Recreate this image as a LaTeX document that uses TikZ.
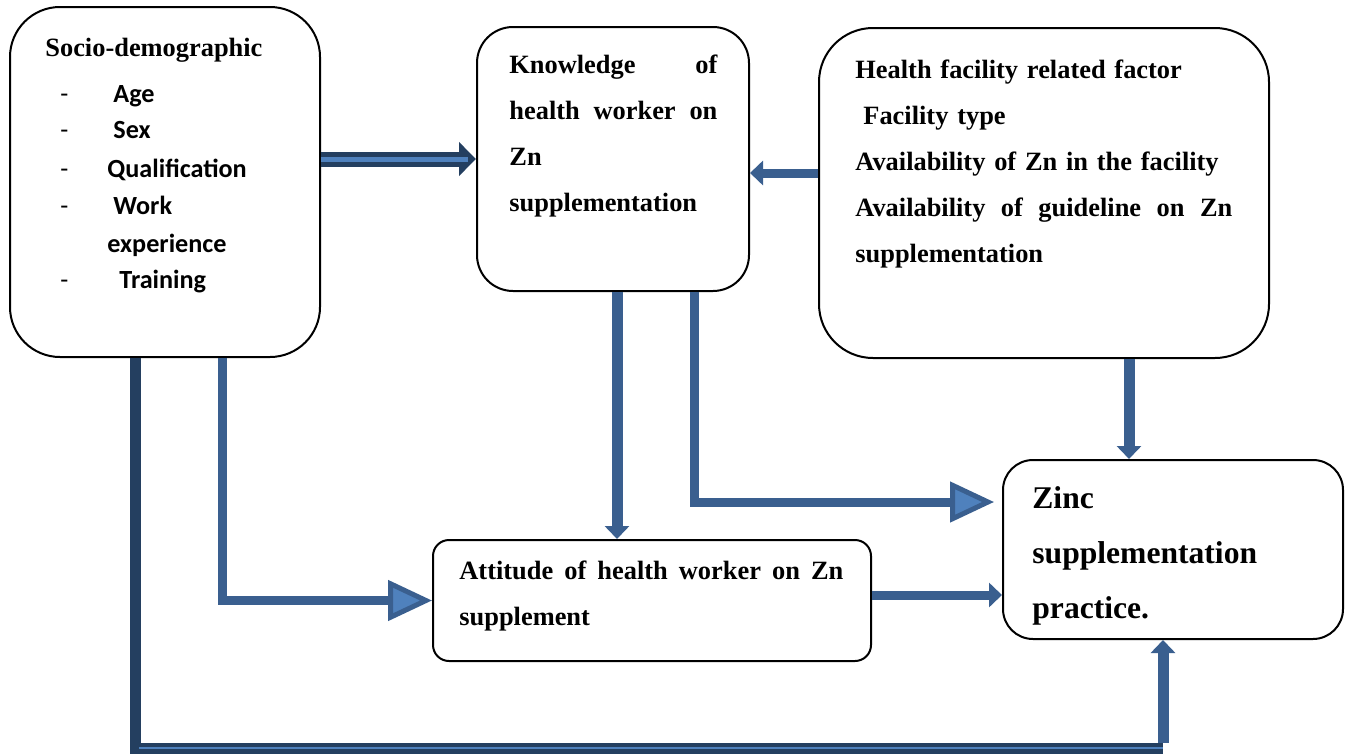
\documentclass[tikz,border=0pt]{standalone}
\usepackage{fontspec}
\setmainfont{Liberation Serif}
\newfontfamily\calibrifont{Carlito}
\usetikzlibrary{arrows.meta}
\definecolor{arrowblue}{HTML}{3A5F8F}
\definecolor{tipfill}{HTML}{4F81BD}
\definecolor{navyblue}{HTML}{243F60}
\begin{document}
\begin{tikzpicture}[x=0.5pt,y=-0.5pt,
	box/.style={draw,line width=1pt,rounded corners=#1,inner sep=0pt},
	box/.default=15pt,
	txt/.style={inner sep=0pt,anchor=base west,align=left,font=\fontsize{13.2}{23}\selectfont\bfseries},
	item/.style={inner sep=0pt,anchor=base west,font=\calibrifont\fontsize{13.1}{18}\selectfont\bfseries},
	dashitem/.style={inner sep=0pt,anchor=base west,font=\calibrifont\fontsize{13.1}{18}\selectfont},
	arr/.style={draw=arrowblue,line width=5pt,-{Triangle[length=6.5pt,width=12pt]}},
	bigarr/.style={draw=arrowblue,line width=4.5pt,-{Triangle[length=22pt,width=20pt,fill=tipfill,line width=2.5pt]}}]
	\useasboundingbox (0,0) rectangle (1349,755);
	% Kaesten
	\node[box=25pt,minimum width=155pt,minimum height=175pt] (socio) at (165,182) {};
	\node[box=18pt,minimum width=136pt,minimum height=132pt] (know) at (613,159) {};
	\node[box=27pt,minimum width=225pt,minimum height=165pt] (facil) at (1044,193) {};
	\node[box=8pt,minimum width=219pt,minimum height=60.5pt] (att) at (652,600.5) {};
	\node[box=15pt,minimum width=170pt,minimum height=89.5pt] (zinc) at (1173,549.5) {};
	% Texte
	\node[txt] (tsocio) at (45,56) {Socio-demographic};
	\node[dashitem] (d1) at (60,102) {-};
	\node[item] (age) at (113,102) {Age};
	\node[dashitem] (d2) at (60,138) {-};
	\node[item] (sex) at (113,138) {Sex};
	\node[dashitem] (d3) at (60,177) {-};
	\node[item] (qual) at (107,177) {Qualification};
	\node[dashitem] (d4) at (60,214) {-};
	\node[item] (work) at (113,214) {Work};
	\node[item] (exper) at (107,252) {experience};
	\node[dashitem] (d5) at (60,288) {-};
	\node[item] (train) at (119,288) {Training};
	\node[txt,text width=104pt] (tknow) at (509,73)
		{Knowledge\hfill of\\health\hfill worker\hfill on\\Zn\\supplementation};
	\node[txt,text width=188.5pt] (tfacil) at (855,78)
		{Health facility related factor\\\hspace*{4pt}Facility type\\Availability of Zn in the facility\\Availability\hfill of\hfill guideline\hfill on\hfill Zn\\supplementation};
	\node[txt,text width=192pt] (tatt) at (459,579)
		{Attitude\hfill of\hfill health\hfill worker\hfill on\hfill Zn\\supplement};
	\node[txt,text width=140pt,font=\fontsize{15.8}{27.5}\selectfont\bfseries] (tzinc) at (1032,508)
		{Zinc\\supplementation\\practice.};
	% Pfeile
	\draw[navyblue,line width=7.5pt,-{Triangle[length=8.5pt,width=16.5pt]}] (socio.east |- know.west) to (know.west);
	\draw[tipfill,line width=2.5pt,shorten >=4pt] (socio.east |- know.west) to (know.west);
	\draw[arr,line width=4.5pt] ([yshift=10pt]facil.west) to ([yshift=10pt]facil.west -| know.east);
	\draw[arr,line width=5.5pt] ([xshift=2pt]know.south) to ([xshift=2pt]know.south |- att.north);
	\draw[bigarr] ([xshift=40.5pt]know.south) |- ([yshift=23.75pt,xshift=-4pt]zinc.west);
	\draw[arr,line width=5.5pt] ([xshift=42.5pt]facil.south) to ([xshift=42.5pt]facil.south |- zinc.north);
	\draw[bigarr] ([xshift=28.5pt]socio.south) |- (att.west);
	\draw[arr,line width=4.5pt] ([yshift=2.75pt]att.east) to ([yshift=2.75pt]att.east -| zinc.west);
	\coordinate (bl) at (135,748);
	\coordinate (br) at (1163,748);
	\draw[navyblue,line width=5.5pt] (socio.south -| bl) to (bl) to (br);
	\draw[tipfill,line width=1pt] ([xshift=2pt]bl) to (br);
	\draw[arr,line width=5.5pt] ([yshift=2.75pt]br) to (br |- zinc.south);
\end{tikzpicture}
\end{document}
